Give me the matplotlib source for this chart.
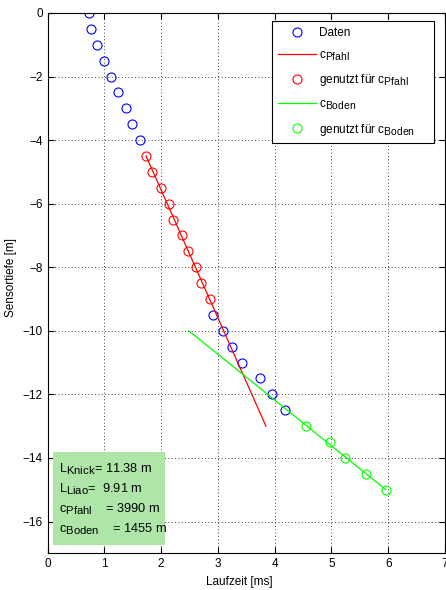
import numpy as np
import matplotlib
matplotlib.use('Agg')
import matplotlib.pyplot as plt
import matplotlib._mathtext as mathtext_internal
from matplotlib.patches import Rectangle

plt.rcParams['font.family'] = ['Liberation Sans', 'DejaVu Sans']
plt.rcParams['mathtext.fontset'] = 'custom'
plt.rcParams['mathtext.rm'] = 'Liberation Sans'
plt.rcParams['mathtext.it'] = 'Liberation Sans'
# MATLAB style subscripts: barely smaller than the main text, set a bit lower
mathtext_internal.SHRINK_FACTOR = 0.88
mathtext_internal.FontConstantsBase.sub1 = 0.42

# Sensor depth [m] and travel time [ms]
tiefe = np.array([0, -0.5, -1.0, -1.5, -2.0, -2.5, -3.0, -3.5, -4.0,
                  -4.5, -5.0, -5.5, -6.0, -6.5, -7.0, -7.5, -8.0, -8.5, -9.0,
                  -9.5, -10.0, -10.5, -11.0, -11.5, -12.0, -12.5,
                  -13.0, -13.5, -14.0, -14.5, -15.0])
laufzeit = np.array([0.73, 0.765, 0.866, 1.0, 1.118, 1.247, 1.388, 1.494, 1.635,
                     1.735, 1.84, 1.99, 2.136, 2.21, 2.37, 2.47, 2.62, 2.70, 2.865,
                     2.917, 3.088, 3.247, 3.423, 3.734, 3.945, 4.18,
                     4.545, 4.975, 5.233, 5.61, 5.963])

# which points were used for the fits
idx_pfahl = np.arange(9, 19)
idx_boden = np.arange(26, 31)
idx_daten = np.setdiff1d(np.arange(len(tiefe)), np.concatenate([idx_pfahl, idx_boden]))

# depth range over which the fit lines are drawn
bereich_pfahl = [-4.5, -13.0]
bereich_boden = [-10.0, -15.0]

# result values
L_knick = 11.38
L_liao = 9.91
c_pfahl = 3990
c_boden = 1455

fig = plt.figure(figsize=(4.46, 5.90), dpi=100)
ax = fig.add_axes([0.1067, 0.0622, 0.891, 0.9158])

ax.plot(laufzeit[idx_daten], tiefe[idx_daten], 'o', mfc='none', mec='blue',
        ms=6.5, mew=0.8, label='Daten')

# linear fits t(z)
p_pf = np.polyfit(tiefe[idx_pfahl], laufzeit[idx_pfahl], 1)
z_pf = np.array(bereich_pfahl)
ax.plot(np.polyval(p_pf, z_pf), z_pf, '-', color='red', lw=0.9, label=r'c$_{\mathrm{Pfahl}}$')
ax.plot(laufzeit[idx_pfahl], tiefe[idx_pfahl], 'o', mfc='none', mec='red',
        ms=6.5, mew=0.8, label=r'genutzt für c$_{\mathrm{Pfahl}}$')

p_bo = np.polyfit(tiefe[idx_boden], laufzeit[idx_boden], 1)
z_bo = np.array(bereich_boden)
ax.plot(np.polyval(p_bo, z_bo), z_bo, '-', color='#00ff00', lw=0.9, label=r'c$_{\mathrm{Boden}}$')
ax.plot(laufzeit[idx_boden], tiefe[idx_boden], 'o', mfc='none', mec='#00ff00',
        ms=6.5, mew=0.8, label=r'genutzt für c$_{\mathrm{Boden}}$')

ax.set_xlim(0, 7)
ax.set_ylim(-17, 0)
ax.set_xticks(range(0, 8))
ax.set_yticks(range(-16, 1, 2))
ax.grid(True, color='black', linestyle=(0, (1, 3)), linewidth=0.6)
ax.tick_params(direction='in', top=True, right=True, labelsize=8.5, length=4)
ax.set_xlabel('Laufzeit [ms]', fontsize=8.5)
ax.set_ylabel('Sensortiefe [m]', fontsize=8.5)
ax.xaxis.set_label_coords(0.482, -0.042)
ax.yaxis.set_label_coords(-0.077, 0.51)

leg = ax.legend(loc='upper left', bbox_to_anchor=(0.565, 0, 0.408, 0.985),
                mode='expand', borderaxespad=0, fontsize=8.5, frameon=True,
                fancybox=False, edgecolor='black', framealpha=1,
                labelspacing=0.82, handlelength=3.2, handletextpad=0.3,
                borderpad=0.5)
leg.get_frame().set_linewidth(0.8)

# result box
ax.add_patch(Rectangle((0.09, -16.75), 1.98, 2.93, facecolor='#aee6a8',
                       edgecolor='none', zorder=3))
zeilen = [r'L$_{\mathrm{Knick}}$= %.2f m' % L_knick,
          r'L$_{\mathrm{Liao}}$=  %.2f m' % L_liao,
          r'c$_{\mathrm{Pfahl}}$    = %d m' % c_pfahl,
          r'c$_{\mathrm{Boden}}$    = %d m' % c_boden]
for i, z in enumerate(zeilen):
    ax.text(0.2, -14.35 - 0.63 * i, z, fontsize=9.2, va='center', ha='left', zorder=4)

fig.savefig('out.png', dpi=100)
